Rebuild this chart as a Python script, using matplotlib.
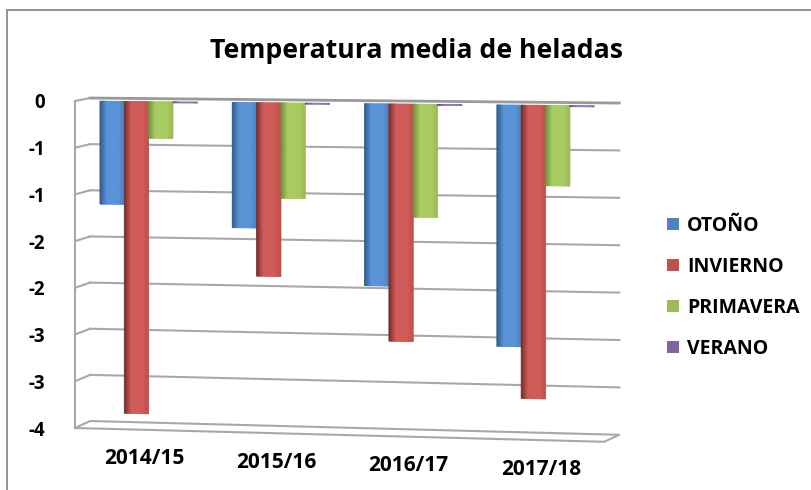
# Temperatura media de heladas - tilted 3D style bars
import numpy as np
import matplotlib
matplotlib.use("Agg")
import matplotlib.pyplot as plt
from matplotlib.colors import to_rgb
from matplotlib.patches import Patch
from matplotlib.transforms import Transform, IdentityTransform

campaigns = ["2014/15", "2015/16", "2016/17", "2017/18"]
otono = [-1.10, -1.33, -1.92, -2.53]
invierno = [-3.33, -1.84, -2.50, -3.07]
primavera = [-0.39, -1.01, -1.19, -0.84]
verano = [-0.01, -0.01, -0.01, -0.01]

seasons = ["OTOÑO", "INVIERNO", "PRIMAVERA", "VERANO"]
colors = ["#4F81BD", "#C0504D", "#9BBB59", "#8064A2"]
dark = ["#2C5788", "#6F2A28", "#6F8C3C", "#5C4578"]
light = ["#5A93D8", "#D05B58", "#A8CC60", "#9176B5"]

grid_values = [0, -0.5, -1, -1.5, -2, -2.5, -3]
tick_values = [0, -0.5, -1, -1.5, -2, -2.5, -3, -3.5]
tick_labels = ["0", "-1", "-1", "-2", "-2", "-3", "-3", "-4"]


class Tilt(Transform):
    # lines run downhill to the right, steeper near the floor
    input_dims = 2
    output_dims = 2

    def __init__(self, dx=0.0, lift=0.0, stretch=0.0):
        super().__init__()
        self.dx = dx
        self.lift = lift
        self.stretch = stretch

    def transform_non_affine(self, values):
        x, y = np.asarray(values, dtype=float).T
        slope = 0.0135 - 0.00668 * y
        return np.column_stack([
            x + self.dx,
            y - (x + 0.5) * slope + self.lift - self.stretch * y,
        ])


def shade(j, t):
    # dark left edge, bright plateau, slightly darker right edge
    d, l, m = (np.array(to_rgb(c)) for c in (dark[j], light[j], colors[j]))
    if t < 0.3:
        return d + (l - d) * t / 0.3
    if t < 0.75:
        return l
    return l + (m - l) * (t - 0.75) / 0.25


W, H = 812, 490
fig = plt.figure(figsize=(W / 100, H / 100), dpi=100)
ax = fig.add_axes([82.5 / W, 1 - 428 / H, 529.2 / W, 327 / H])
ax.set_xlim(-0.5, 3.5)
ax.set_ylim(-3.5, 0)
ax.patch.set_alpha(0)
for s in ax.spines.values():
    s.set_visible(False)

fam = ['Open Sans', 'DejaVu Sans']
plt.rcParams['font.family'] = fam
fw = dict(family=fam, fontweight='bold', color='black')

front = Tilt(dx=-0.057) + ax.transData
back = Tilt(dx=0.057, lift=0.032, stretch=0.0122) + ax.transData
plane = Tilt() + ax.transData
grid_c = '#A8A8A8'

# back wall, left wall and floor
for v in grid_values:
    ax.plot([-0.5, 3.5], [v, v], color='#999999' if v == 0 else grid_c,
            lw=2 if v == 0 else 1.5, transform=back, clip_on=False, zorder=1)
    p0 = front.transform((-0.5, v))
    p1 = back.transform((-0.5, v))
    ax.plot([p0[0], p1[0]], [p0[1], p1[1]], color=grid_c, lw=1.5,
            transform=IdentityTransform(), clip_on=False, zorder=1)

floor = -3.5
corners = [front.transform((-0.5, floor)), back.transform((-0.5, floor)),
           back.transform((3.5, floor)), front.transform((3.5, floor)),
           front.transform((-0.5, floor)), front.transform((-0.5, 0))]
xs, ys = zip(*corners)
ax.plot(xs, ys, color=grid_c, lw=1.5, transform=IdentityTransform(),
        clip_on=False, zorder=1)

# each bar is cut in thin strips to get the cylinder shading
bar_w = 0.184
n_strips = 24
series = [otono, invierno, primavera, verano]
for j, vals in enumerate(series):
    for i, v in enumerate(vals):
        left = i + (j - 2) * bar_w
        for k in range(n_strips):
            c = shade(j, (k + 0.5) / n_strips)
            ax.bar(left + k * bar_w / n_strips, v, width=bar_w / n_strips,
                   align='edge', color=c, edgecolor=c, lw=0.6,
                   transform=plane, zorder=3 + j, clip_on=False)

ax.set_xlim(-0.5, 3.5)
ax.set_ylim(-3.5, 0)
ax.set_xticks([])
ax.set_yticks(tick_values)
ax.set_yticklabels(tick_labels, **fw, fontsize=13.5)
ax.tick_params(axis='y', length=0, pad=27)

for i, name in enumerate(campaigns):
    ax.text(i - 0.035, -3.81, name, transform=plane, ha='center', va='center',
            fontsize=15, clip_on=False, **fw)

fig.text(416 / W, 1 - 51 / H, "Temperatura media de heladas", ha='center',
         va='center', fontsize=19.2, **fw)

handles = [Patch(facecolor=c, edgecolor='none') for c in colors]
leg = fig.legend(handles, seasons, loc='center left',
                 bbox_to_anchor=(667 / W, 1 - 287.5 / H), frameon=False,
                 prop={'family': fam, 'weight': 'bold', 'size': 14},
                 handlelength=0.62, handleheight=0.62, handletextpad=0.4,
                 labelspacing=1.08, borderpad=0, borderaxespad=0)

# only top and left of the frame are visible
frame_c = '#8C8C8C'
fig.add_artist(plt.Line2D([7 / W, 7 / W], [0, 1 - 10.5 / H], color=frame_c, lw=1.3,
                          transform=fig.transFigure))
fig.add_artist(plt.Line2D([7 / W, 1], [1 - 10.5 / H, 1 - 10.5 / H], color=frame_c, lw=1.3,
                          transform=fig.transFigure))

fig.savefig("out.png", dpi=100)
